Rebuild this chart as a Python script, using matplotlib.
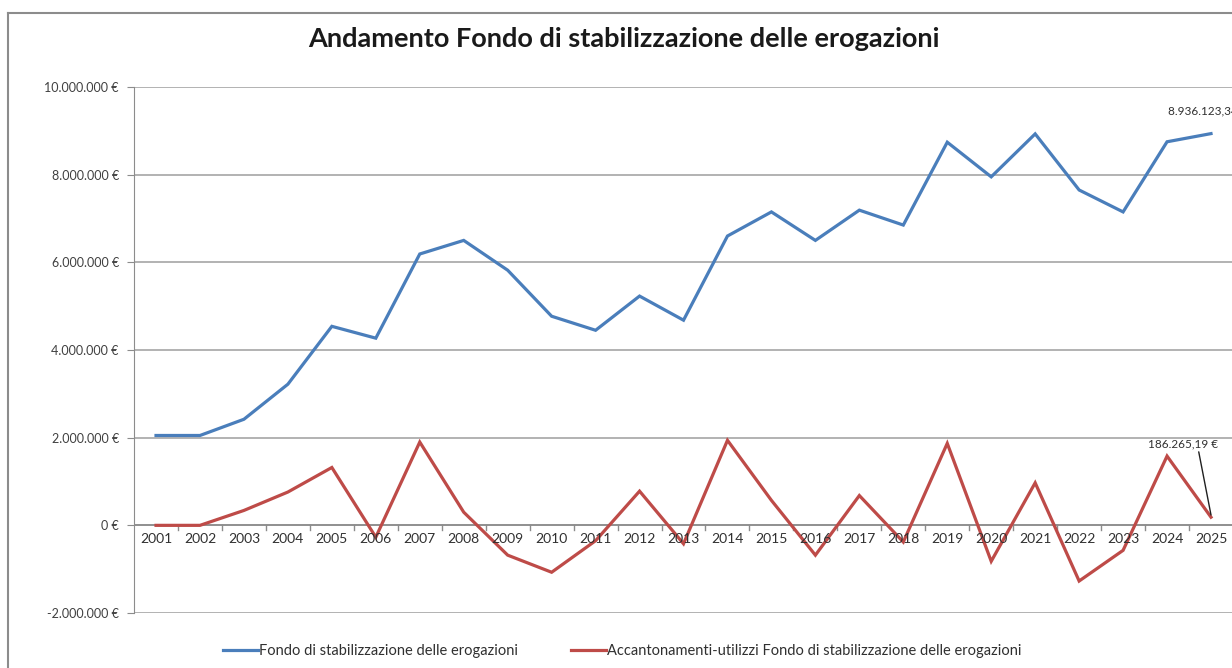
import matplotlib
matplotlib.use('Agg')
import matplotlib.pyplot as plt
from matplotlib.ticker import FuncFormatter, FixedLocator
from matplotlib.lines import Line2D

plt.rcParams['font.family'] = ['Lato', 'DejaVu Sans']

anni = [str(a) for a in range(2001, 2026)]
# Fondo di stabilizzazione delle erogazioni (EUR)
fondo = [2050000, 2050000, 2420000, 3220000, 4540000, 4270000, 6190000, 6500000,
         5820000, 4770000, 4450000, 5230000, 4680000, 6600000, 7150000, 6500000,
         7190000, 6850000, 8740000, 7950000, 8930000, 7650000, 7150000, 8750000,
         8936123.34]
# Accantonamenti-utilizzi (EUR)
accant = [0, 0, 340000, 760000, 1320000, -270000, 1900000, 300000,
          -680000, -1070000, -350000, 780000, -420000, 1940000, 570000, -680000,
          680000, -380000, 1870000, -820000, 970000, -1270000, -570000, 1580000,
          186265.19]

lbl_fondo = 'Fondo di stabilizzazione delle erogazioni'
lbl_acc = 'Accantonamenti-utilizzi Fondo di stabilizzazione delle erogazioni'

blu = '#4a7ebb'
rosso = '#be4b48'
grigio = '#8c8c8c'


def euro(v, pos=None):
    s = '{:,.0f}'.format(v).replace(',', '.')
    return s + ' €'


def euro_dec(v):
    s = '{:,.2f}'.format(v)
    s = s.replace(',', 'X').replace('.', ',').replace('X', '.')
    return s + ' €'


fig = plt.figure(figsize=(12.32, 6.68), dpi=100)
ax = fig.add_axes([0.1088, 0.0823, 0.892, 0.7875])

x = list(range(len(anni)))
ax.plot(x, fondo, color=blu, lw=2.3, label=lbl_fondo, solid_joinstyle='miter', zorder=3)
ax.plot(x, accant, color=rosso, lw=2.3, label=lbl_acc, solid_joinstyle='miter', zorder=3)

ax.set_xlim(-0.5, len(anni) - 0.5)
ax.set_ylim(-2000000, 10000000)
ax.set_yticks(range(-2000000, 10000001, 2000000))
ax.yaxis.set_major_formatter(FuncFormatter(euro))
ax.tick_params(axis='y', labelsize=9, colors='#404040', length=5, color=grigio, pad=6)
ax.grid(axis='y', color='#a6a6a6', lw=1.2)
ax.set_axisbelow(True)

# asse categorie che incrocia lo zero
for s in ['top', 'right', 'bottom']:
    ax.spines[s].set_visible(False)
ax.spines['left'].set_color(grigio)
ax.axhline(0, color=grigio, lw=1.2, zorder=2)
ax.xaxis.set_major_locator(FixedLocator([i + 0.5 for i in x[:-1]]))
ax.xaxis.set_major_formatter(FuncFormatter(lambda v, p: ''))
ax.tick_params(axis='x', length=0)
for i, a in enumerate(anni):
    ax.text(i, -170000, a, ha='center', va='top', fontsize=10, color='#303030')
    if i < len(anni) - 1:
        ax.plot([i + 0.5, i + 0.5], [0, -110000], color=grigio, lw=1, zorder=2)

# etichette ultimi valori
ax.text(len(anni) - 1.97, fondo[-1] + 400000, euro_dec(fondo[-1]),
        fontsize=8.5, color='#303030', ha='left', va='bottom', clip_on=False)
ax.annotate(euro_dec(accant[-1]), xy=(len(anni) - 1, accant[-1] + 50000),
            xytext=(len(anni) - 2.44, 1740000), fontsize=8.5, color='#303030',
            ha='left', va='bottom',
            arrowprops=dict(arrowstyle='-', color='#202020', lw=1,
                            shrinkA=0, shrinkB=0, relpos=(0.72, 0.0)))

fig.suptitle('Andamento Fondo di stabilizzazione delle erogazioni', x=0.506, y=0.96,
             fontsize=19.5, fontweight='bold', color='#1a1a1a')

leg = fig.legend(loc='center', bbox_to_anchor=(0.505, 0.025), ncol=2, frameon=False,
                 fontsize=10.5, handlelength=2.4, handletextpad=0.1, columnspacing=3.6)
for t in leg.get_texts():
    t.set_color('#303030')

# cornice del grafico
fig.add_artist(Line2D([0.0065, 0.0065], [0, 0.981], transform=fig.transFigure, color='#8c8c8c', lw=1.5))
fig.add_artist(Line2D([0.0065, 1.0], [0.981, 0.981], transform=fig.transFigure, color='#8c8c8c', lw=1.5))

fig.savefig('out.png', dpi=100)
